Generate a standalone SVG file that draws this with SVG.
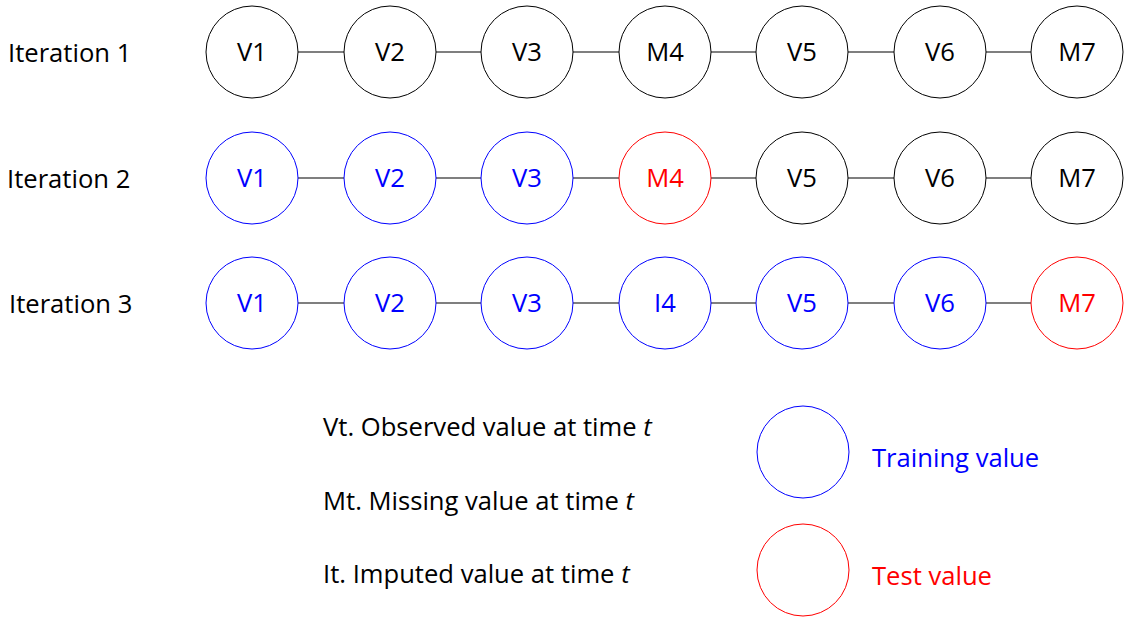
<svg xmlns="http://www.w3.org/2000/svg" width="1126" height="619" viewBox="0 0 1126 619">
<style>
text{font-family:"Open Sans","Noto Sans","Liberation Sans",sans-serif;font-size:25.6px}
.n{fill:#fff;stroke:#000;stroke-width:1}
.b{fill:#fff;stroke:#0000ff;stroke-width:1}
.r{fill:#fff;stroke:#ff0000;stroke-width:1}
.lbl{text-anchor:middle}
.tk{fill:#000}.tb{fill:#0000ff}.tr{fill:#ff0000}
.e{stroke:#000;stroke-width:1.2}
</style>
<rect width="1126" height="619" fill="#fff"/>
<g id="connectors">
<path class="e" d="M298 52H344M436 52H481M573 52H619M711 52H756M848 52H894M986 52H1031"/>
<path class="e" d="M298 178H344M436 178H481M573 178H619M711 178H756M848 178H894M986 178H1031"/>
<path class="e" d="M298 303H344M436 303H481M573 303H619M711 303H756M848 303H894M986 303H1031"/>
</g>
<g id="row-labels">
<text x="8" y="62" class="tk">Iteration 1</text>
<text x="7" y="188" class="tk">Iteration 2</text>
<text x="9" y="313" class="tk">Iteration 3</text>
</g>
<g id="r1">
<g id="r1v1"><circle class="n" cx="252" cy="52" r="46"/><text class="lbl tk" x="252" y="61">V1</text></g>
<g id="r1v2"><circle class="n" cx="390" cy="52" r="46"/><text class="lbl tk" x="390" y="61">V2</text></g>
<g id="r1v3"><circle class="n" cx="527" cy="52" r="46"/><text class="lbl tk" x="527" y="61">V3</text></g>
<g id="r1m4"><circle class="n" cx="665" cy="52" r="46"/><text class="lbl tk" x="665" y="61">M4</text></g>
<g id="r1v5"><circle class="n" cx="802" cy="52" r="46"/><text class="lbl tk" x="802" y="61">V5</text></g>
<g id="r1v6"><circle class="n" cx="940" cy="52" r="46"/><text class="lbl tk" x="940" y="61">V6</text></g>
<g id="r1m7"><circle class="n" cx="1077" cy="52" r="46"/><text class="lbl tk" x="1077" y="61">M7</text></g>
</g>
<g id="r2">
<g id="r2v1"><circle class="b" cx="252" cy="178" r="46"/><text class="lbl tb" x="252" y="187">V1</text></g>
<g id="r2v2"><circle class="b" cx="390" cy="178" r="46"/><text class="lbl tb" x="390" y="187">V2</text></g>
<g id="r2v3"><circle class="b" cx="527" cy="178" r="46"/><text class="lbl tb" x="527" y="187">V3</text></g>
<g id="r2m4"><circle class="r" cx="665" cy="178" r="46"/><text class="lbl tr" x="665" y="187">M4</text></g>
<g id="r2v5"><circle class="n" cx="802" cy="178" r="46"/><text class="lbl tk" x="802" y="187">V5</text></g>
<g id="r2v6"><circle class="n" cx="940" cy="178" r="46"/><text class="lbl tk" x="940" y="187">V6</text></g>
<g id="r2m7"><circle class="n" cx="1077" cy="178" r="46"/><text class="lbl tk" x="1077" y="187">M7</text></g>
</g>
<g id="r3">
<g id="r3v1"><circle class="b" cx="252" cy="303" r="46"/><text class="lbl tb" x="252" y="312">V1</text></g>
<g id="r3v2"><circle class="b" cx="390" cy="303" r="46"/><text class="lbl tb" x="390" y="312">V2</text></g>
<g id="r3v3"><circle class="b" cx="527" cy="303" r="46"/><text class="lbl tb" x="527" y="312">V3</text></g>
<g id="r3i4"><circle class="b" cx="665" cy="303" r="46"/><text class="lbl tb" x="665" y="312">I4</text></g>
<g id="r3v5"><circle class="b" cx="802" cy="303" r="46"/><text class="lbl tb" x="802" y="312">V5</text></g>
<g id="r3v6"><circle class="b" cx="940" cy="303" r="46"/><text class="lbl tb" x="940" y="312">V6</text></g>
<g id="r3m7"><circle class="r" cx="1077" cy="303" r="46"/><text class="lbl tr" x="1077" y="312">M7</text></g>
</g>
<g id="legend-text">
<text x="323" y="436" class="tk">Vt. Observed value at time <tspan font-style="italic">t</tspan></text>
<text x="323" y="510" class="tk">Mt. Missing value at time <tspan font-style="italic">t</tspan></text>
<text x="323" y="583" class="tk">It. Imputed value at time <tspan font-style="italic">t</tspan></text>
</g>
<g id="legend-training"><circle class="b" cx="803" cy="452" r="46"/><text x="872" y="467" class="tb">Training value</text></g>
<g id="legend-test"><circle class="r" cx="803" cy="570" r="46"/><text x="872" y="585" class="tr">Test value</text></g>
</svg>
